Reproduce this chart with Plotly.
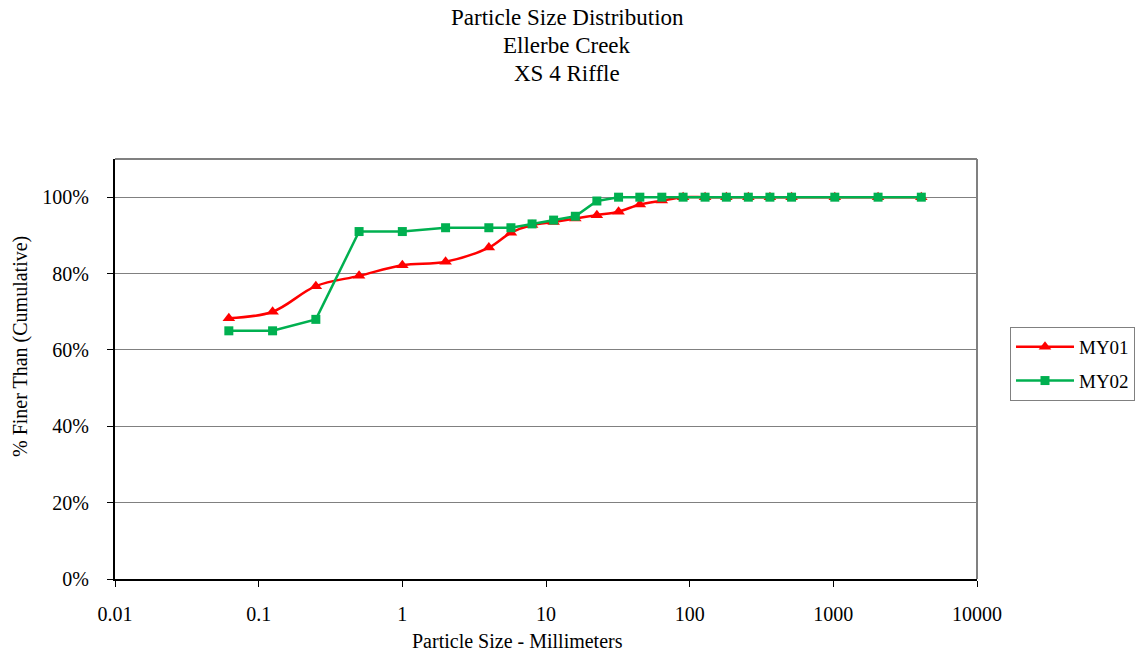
import plotly.graph_objects as go

sizes = [0.062, 0.125, 0.25, 0.5, 1, 2, 4, 5.7, 8, 11.3, 16, 22.6, 32, 45, 64, 90,
         128, 180, 256, 362, 512, 1024, 2048, 4096]
my01 = [68.3, 70.0, 76.7, 79.4, 82.2, 83.1, 86.8, 90.7, 92.7, 93.5, 94.4, 95.3, 96.2,
        98.1, 99.1, 100, 100, 100, 100, 100, 100, 100, 100, 100]
my02 = [65, 65, 68, 91, 91, 92, 92, 92, 93, 94, 95, 99, 100, 100, 100, 100,
        100, 100, 100, 100, 100, 100, 100, 100]
x_ticks = [0.01, 0.1, 1, 10, 100, 1000, 10000]
x_tick_text = ["0.01", "0.1", "1", "10", "100", "1000", "10000"]
y_ticks = [0, 20, 40, 60, 80, 100]
y_tick_text = ["0%", "20%", "40%", "60%", "80%", "100%"]
title_lines = ["Particle Size Distribution", "Ellerbe Creek", "XS 4 Riffle"]

FONT = "Liberation Serif, Times New Roman, serif"
L, R, T, B = 115, 977, 159, 579
PW, PH = R - L, B - T


def px(x):
    return (x - L) / PW


def py(y):
    return (B - y) / PH


fig = go.Figure()
fig.add_trace(go.Scatter(
    x=sizes, y=my01, name="MY01", mode="lines+markers",
    line=dict(color="#FF0000", width=2.5, shape="spline", smoothing=1.0),
    marker=dict(symbol="triangle-up", size=11, color="#FF0000"),
    legendgroup="a"))
fig.add_trace(go.Scatter(
    x=sizes, y=my02, name="MY02", mode="lines+markers",
    line=dict(color="#00B050", width=2.5),
    marker=dict(symbol="square", size=9, color="#00B050"),
    legendgroup="b"))

annotations = []
for i, t in enumerate(title_lines):
    annotations.append(dict(
        text=t, xref="paper", yref="paper", x=px(567), y=py(17 + 28 * i),
        xanchor="center", yanchor="middle", showarrow=False,
        font=dict(family=FONT, size=23, color="black")))
annotations.append(dict(
    text="Particle Size - Millimeters", xref="paper", yref="paper",
    x=px(517), y=py(641), xanchor="center", yanchor="middle", showarrow=False,
    font=dict(family=FONT, size=20, color="black")))
annotations.append(dict(
    text="% Finer Than (Cumulative)", xref="paper", yref="paper",
    x=px(20), y=py(347), xanchor="center", yanchor="middle", showarrow=False,
    textangle=-90, font=dict(family=FONT, size=20, color="black")))

fig.update_layout(
    width=1147, height=656,
    margin=dict(l=L, r=1147 - R, t=T, b=656 - B),
    paper_bgcolor="white", plot_bgcolor="white",
    font=dict(family=FONT, size=20, color="black"),
    showlegend=True,
    legend=dict(x=px(1010), xanchor="left", y=py(327), yanchor="top",
                bordercolor="#808080", borderwidth=1,
                font=dict(family=FONT, size=19, color="black"),
                itemwidth=58, tracegroupgap=6),
    xaxis=dict(type="log", range=[-2, 4], tickvals=x_ticks, ticktext=x_tick_text,
               showgrid=False, showline=True, linecolor="black", linewidth=2,
               ticks="outside", ticklen=6, tickcolor="black",
               zeroline=False, ticklabelstandoff=10,
               tickfont=dict(family=FONT, size=20)),
    yaxis=dict(range=[0, 110], tickvals=y_ticks, ticktext=y_tick_text,
               showgrid=True, gridcolor="#808080", gridwidth=1,
               showline=True, linecolor="black", linewidth=2,
               ticks="outside", ticklen=6, tickcolor="black",
               zeroline=False, ticklabelstandoff=14,
               tickfont=dict(family=FONT, size=20)),
    shapes=[
        dict(type="line", xref="paper", yref="paper", x0=0, x1=1, y0=1, y1=1,
             line=dict(color="#808080", width=2)),
        dict(type="line", xref="paper", yref="paper", x0=1, x1=1, y0=0, y1=1,
             line=dict(color="#808080", width=2)),
    ],
    annotations=annotations,
)

fig.write_html("out.html")
